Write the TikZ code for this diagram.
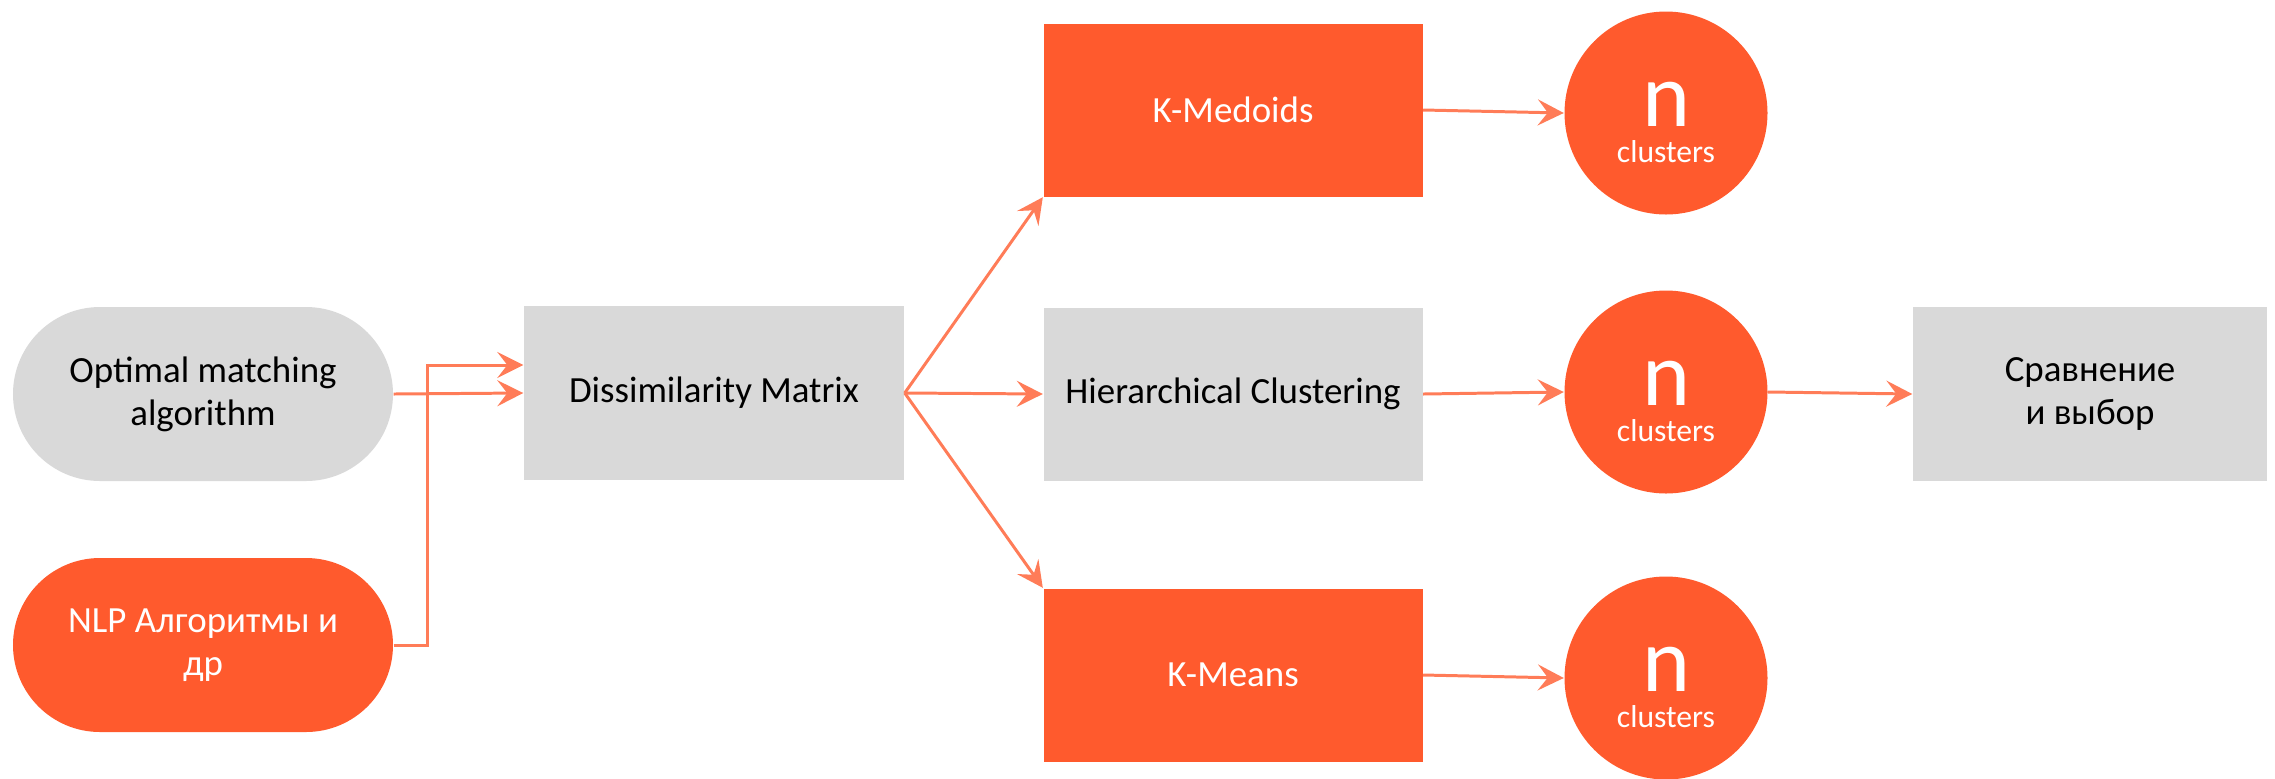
\documentclass[tikz,border=0pt]{standalone}
\usepackage{fontspec}
\setmainfont{Carlito}
\usetikzlibrary{arrows.meta}

\definecolor{boxgrey}{HTML}{D9D9D9}
\definecolor{boxorange}{HTML}{FF5A2D}
\definecolor{linkorange}{HTML}{FF7C58}

\newcommand{\nclusters}{{\fontsize{26}{10}\selectfont n}\\clusters}

\tikzset{
  greybox/.style={rectangle, fill=boxgrey, text=black, minimum width=3.79cm, minimum height=1.73cm,
    inner sep=0pt, align=center, font=\fontsize{10.5}{12.3}\selectfont},
  orangebox/.style={greybox, fill=boxorange, text=white},
  greypill/.style={greybox, rounded corners=0.87cm, minimum width=3.8cm, minimum height=1.74cm},
  orangepill/.style={greypill, fill=boxorange, text=white},
  cluster/.style={circle, fill=boxorange, minimum size=2.03cm, inner sep=0pt},
  clustext/.style={text=white, inner sep=0pt, align=center, anchor=south, font=\fontsize{9}{10}\selectfont},
  link/.style={draw=linkorange, line width=0.85pt, -{Stealth[length=0.26cm,width=0.26cm,inset=0.1cm]}},
}

\begin{document}
\begin{tikzpicture}
\useasboundingbox (0,0) rectangle (22.75,7.78);

% inputs
\node[greypill] (opt) at (2.03,3.84) {Optimal matching\\algorithm};
\node[orangepill] (nlp) at (2.03,1.33) {NLP Алгоритмы и\\др};

\node[greybox, minimum width=3.8cm, minimum height=1.74cm] (dis) at (7.14,3.85) {Dissimilarity Matrix};

% methods
\node[orangebox] (kmed) at (12.33,6.68) {K-Medoids};
\node[greybox] (hier) at (12.33,3.84) {Hierarchical Clustering};
\node[orangebox] (kmean) at (12.33,1.03) {K-Means};

% clusters
\node[cluster] (c1) at (16.66,6.65) {};
\node[clustext] (t1) at ([yshift=-0.5cm]c1.center) {\nclusters};

\node[cluster] (c2) at (16.66,3.86) {};
\node[clustext] (t2) at ([yshift=-0.5cm]c2.center) {\nclusters};

\node[cluster] (c3) at (16.66,1.00) {};
\node[clustext] (t3) at ([yshift=-0.5cm]c3.center) {\nclusters};

\node[greybox, minimum width=3.54cm, minimum height=1.74cm] (cmp) at (20.90,3.84) {Сравнение\\и выбор};

% connectors
\draw[link] (opt.east) -- (dis.west);
\draw[link] (nlp.east) -- ++(0.34,0) |- ([yshift=0.28cm]dis.west);

\draw[link] (dis.east) -- (kmed.south west);
\draw[link] (dis.east) -- (hier.west);
\draw[link] (dis.east) -- (kmean.north west);

\draw[link] (kmed.east) -- (c1.west);
\draw[link] (hier.east) -- (c2.west);
\draw[link] (kmean.east) -- (c3.west);

\draw[link] (c2.east) -- (cmp.west);

\end{tikzpicture}
\end{document}
